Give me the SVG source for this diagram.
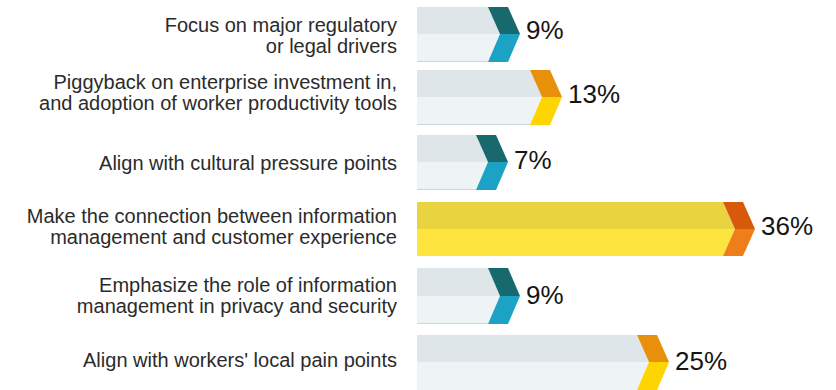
<svg xmlns="http://www.w3.org/2000/svg" width="836" height="390" viewBox="0 0 836 390">
<style>
.lbl{font-family:"Liberation Sans",Arial,Helvetica,sans-serif;font-size:20px;fill:#2b2b2b;text-anchor:end}
.pct{font-family:"Liberation Sans",Arial,Helvetica,sans-serif;font-size:26px;fill:#151515}
.gt{fill:#dfe6e9}.gb{fill:#eef3f6}
.yt{fill:#e9d440}.yb{fill:#fde43e}
.tt{fill:#17696e}.tb{fill:#1ca2c5}
.ot{fill:#e8900b}.ob{fill:#fed500}
.rt{fill:#d7590b}.rb{fill:#ef7e1a}
.edge{fill:none;stroke:#cfd6da;stroke-width:1}
</style>
<rect width="836" height="390" fill="#ffffff"/>
<g id="row1">
<polygon class="gt" points="417,7 488,7 500,34 417,34"/>
<polygon class="gb" points="417,34 500,34 488,62 417,62"/>
<line class="edge" x1="417" y1="61.5" x2="488" y2="61.5"/>
<polygon class="tt" points="488,7 508,7 520,34 500,34"/>
<polygon class="tb" points="500,34 520,34 508,62 488,62"/>
<text class="pct" x="526" y="39">9%</text>
<text class="lbl" x="397" y="32">Focus on major regulatory</text>
<text class="lbl" x="397" y="53">or legal drivers</text>
</g>
<g id="row2">
<polygon class="gt" points="417,70 530,70 542,97 417,97"/>
<polygon class="gb" points="417,97 542,97 530,125 417,125"/>
<line class="edge" x1="417" y1="124.5" x2="530" y2="124.5"/>
<polygon class="ot" points="530,70 550,70 562,97 542,97"/>
<polygon class="ob" points="542,97 562,97 550,125 530,125"/>
<text class="pct" x="568" y="103">13%</text>
<text class="lbl" x="397" y="88.5">Piggyback on enterprise investment in,</text>
<text class="lbl" x="397" y="110">and adoption of worker productivity tools</text>
</g>
<g id="row3">
<polygon class="gt" points="417,135 476,135 488,162 417,162"/>
<polygon class="gb" points="417,162 488,162 476,190 417,190"/>
<line class="edge" x1="417" y1="189.5" x2="476" y2="189.5"/>
<polygon class="tt" points="476,135 496,135 508,162 488,162"/>
<polygon class="tb" points="488,162 508,162 496,190 476,190"/>
<text class="pct" x="514" y="169">7%</text>
<text class="lbl" x="397" y="170">Align with cultural pressure points</text>
</g>
<g id="row4">
<polygon class="yt" points="417,202 723,202 735,229 417,229"/>
<polygon class="yb" points="417,229 735,229 723,256 417,256"/>
<polygon class="rt" points="723,202 743,202 755,229 735,229"/>
<polygon class="rb" points="735,229 755,229 743,256 723,256"/>
<text class="pct" x="761" y="235">36%</text>
<text class="lbl" x="397" y="222.5">Make the connection between information</text>
<text class="lbl" x="397" y="243.5">management and customer experience</text>
</g>
<g id="row5">
<polygon class="gt" points="417,268 488,268 500,296 417,296"/>
<polygon class="gb" points="417,296 500,296 488,324 417,324"/>
<line class="edge" x1="417" y1="323.5" x2="488" y2="323.5"/>
<polygon class="tt" points="488,268 508,268 520,296 500,296"/>
<polygon class="tb" points="500,296 520,296 508,324 488,324"/>
<text class="pct" x="526" y="304">9%</text>
<text class="lbl" x="397" y="292">Emphasize the role of information</text>
<text class="lbl" x="397" y="313">management in privacy and security</text>
</g>
<g id="row6">
<polygon class="gt" points="417,335 637,335 649,362 417,362"/>
<polygon class="gb" points="417,362 649,362 637,390 417,390"/>
<polygon class="ot" points="637,335 657,335 669,362 649,362"/>
<polygon class="ob" points="649,362 669,362 657,390 637,390"/>
<text class="pct" x="675" y="370">25%</text>
<text class="lbl" x="397" y="367">Align with workers' local pain points</text>
</g>
<g id="connectors"></g>
</svg>
